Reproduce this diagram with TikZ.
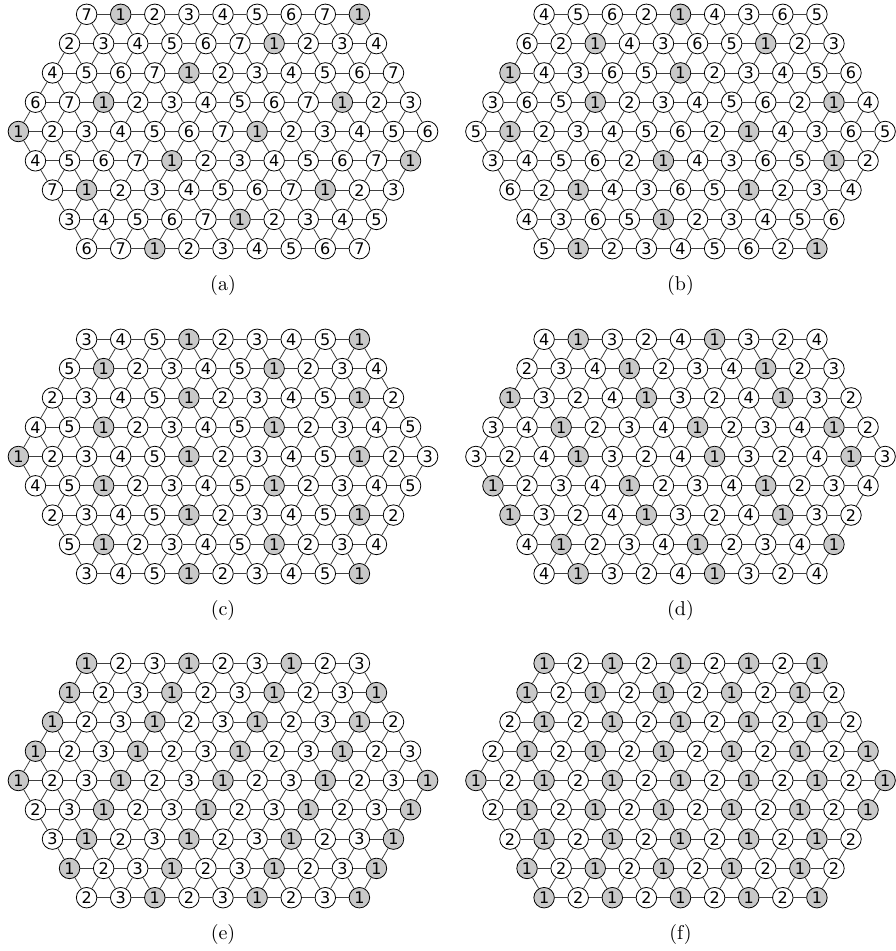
\documentclass[tikz,border=0pt]{standalone}
\usepackage{fontspec}
\newfontfamily\digitfont{DejaVu Sans}
\newfontfamily\capfont{lmroman10-regular}[Extension=.otf]
\tikzset{
  lat/.style={circle,draw=black,line width=0.8pt,fill=#1,minimum size=20.5pt,inner sep=0pt,
    font=\digitfont\fontsize{16}{16}\selectfont},
  lnk/.style={draw=black!75,line width=0.8pt},
  capt/.style={inner sep=0pt,font=\capfont\fontsize{20}{24}\selectfont}
}
\newcommand\hexpanel[5]{%
  \foreach \rowlist [count=\r] in {#5} {%
    \pgfmathtruncatemacro\n{13-abs(\r-5)}%
    \foreach \v [count=\i] in \rowlist {%
      \pgfmathsetmacro\xx{#2+(\i-(\n+1)/2)*34.1}%
      \pgfmathsetmacro\yy{#3+(\r-5)*29.3}%
      \ifnum\v=1 \def\fc{black!21}\else\def\fc{white}\fi
      \node[lat=\fc] (#1-\r-\i) at (\xx,\yy) {\v};
    }%
  }%
  \foreach \r in {1,...,9} {%
    \pgfmathtruncatemacro\n{13-abs(\r-5)}%
    \pgfmathtruncatemacro\nm{\n-1}%
    \foreach \i in {1,...,\nm} {%
      \pgfmathtruncatemacro\j{\i+1}%
      \draw[lnk] (#1-\r-\i) -- (#1-\r-\j);
    }%
  }%
  \foreach \r in {1,...,8} {%
    \pgfmathtruncatemacro\n{13-abs(\r-5)}%
    \pgfmathtruncatemacro\rn{\r+1}%
    \foreach \i in {1,...,\n} {%
      \pgfmathtruncatemacro\j{\i+1}%
      \pgfmathtruncatemacro\k{\i-1}%
      \ifnum\r<5
        \draw[lnk] (#1-\r-\i) -- (#1-\rn-\i);
        \draw[lnk] (#1-\r-\i) -- (#1-\rn-\j);
      \else
        \ifnum\i>1 \draw[lnk] (#1-\r-\i) -- (#1-\rn-\k);\fi
        \ifnum\i<\n \draw[lnk] (#1-\r-\i) -- (#1-\rn-\i);\fi
      \fi
    }%
  }%
  \node[capt] (#1-cap) at (#2,#3+154) {#4};
}
\begin{document}
\begin{tikzpicture}[x=1pt,y=-1pt]
\useasboundingbox (0,0) rectangle (896,951);
\hexpanel{a}{223}{131.5}{(a)}{%
{7,1,2,3,4,5,6,7,1},
{2,3,4,5,6,7,1,2,3,4},
{4,5,6,7,1,2,3,4,5,6,7},
{6,7,1,2,3,4,5,6,7,1,2,3},
{1,2,3,4,5,6,7,1,2,3,4,5,6},
{4,5,6,7,1,2,3,4,5,6,7,1},
{7,1,2,3,4,5,6,7,1,2,3},
{3,4,5,6,7,1,2,3,4,5},
{6,7,1,2,3,4,5,6,7}}
\hexpanel{b}{680.5}{131.5}{(b)}{%
{4,5,6,2,1,4,3,6,5},
{6,2,1,4,3,6,5,1,2,3},
{1,4,3,6,5,1,2,3,4,5,6},
{3,6,5,1,2,3,4,5,6,2,1,4},
{5,1,2,3,4,5,6,2,1,4,3,6,5},
{3,4,5,6,2,1,4,3,6,5,1,2},
{6,2,1,4,3,6,5,1,2,3,4},
{4,3,6,5,1,2,3,4,5,6},
{5,1,2,3,4,5,6,2,1}}
\hexpanel{c}{223}{456.5}{(c)}{%
{3,4,5,1,2,3,4,5,1},
{5,1,2,3,4,5,1,2,3,4},
{2,3,4,5,1,2,3,4,5,1,2},
{4,5,1,2,3,4,5,1,2,3,4,5},
{1,2,3,4,5,1,2,3,4,5,1,2,3},
{4,5,1,2,3,4,5,1,2,3,4,5},
{2,3,4,5,1,2,3,4,5,1,2},
{5,1,2,3,4,5,1,2,3,4},
{3,4,5,1,2,3,4,5,1}}
\hexpanel{d}{680.5}{456.5}{(d)}{%
{4,1,3,2,4,1,3,2,4},
{2,3,4,1,2,3,4,1,2,3},
{1,3,2,4,1,3,2,4,1,3,2},
{3,4,1,2,3,4,1,2,3,4,1,2},
{3,2,4,1,3,2,4,1,3,2,4,1,3},
{1,2,3,4,1,2,3,4,1,2,3,4},
{1,3,2,4,1,3,2,4,1,3,2},
{4,1,2,3,4,1,2,3,4,1},
{4,1,3,2,4,1,3,2,4}}
\hexpanel{e}{223}{780.5}{(e)}{%
{1,2,3,1,2,3,1,2,3},
{1,2,3,1,2,3,1,2,3,1},
{1,2,3,1,2,3,1,2,3,1,2},
{1,2,3,1,2,3,1,2,3,1,2,3},
{1,2,3,1,2,3,1,2,3,1,2,3,1},
{2,3,1,2,3,1,2,3,1,2,3,1},
{3,1,2,3,1,2,3,1,2,3,1},
{1,2,3,1,2,3,1,2,3,1},
{2,3,1,2,3,1,2,3,1}}
\hexpanel{f}{680.5}{780.5}{(f)}{%
{1,2,1,2,1,2,1,2,1},
{1,2,1,2,1,2,1,2,1,2},
{2,1,2,1,2,1,2,1,2,1,2},
{2,1,2,1,2,1,2,1,2,1,2,1},
{1,2,1,2,1,2,1,2,1,2,1,2,1},
{2,1,2,1,2,1,2,1,2,1,2,1},
{2,1,2,1,2,1,2,1,2,1,2},
{1,2,1,2,1,2,1,2,1,2},
{1,2,1,2,1,2,1,2,1}}
\end{tikzpicture}
\end{document}
